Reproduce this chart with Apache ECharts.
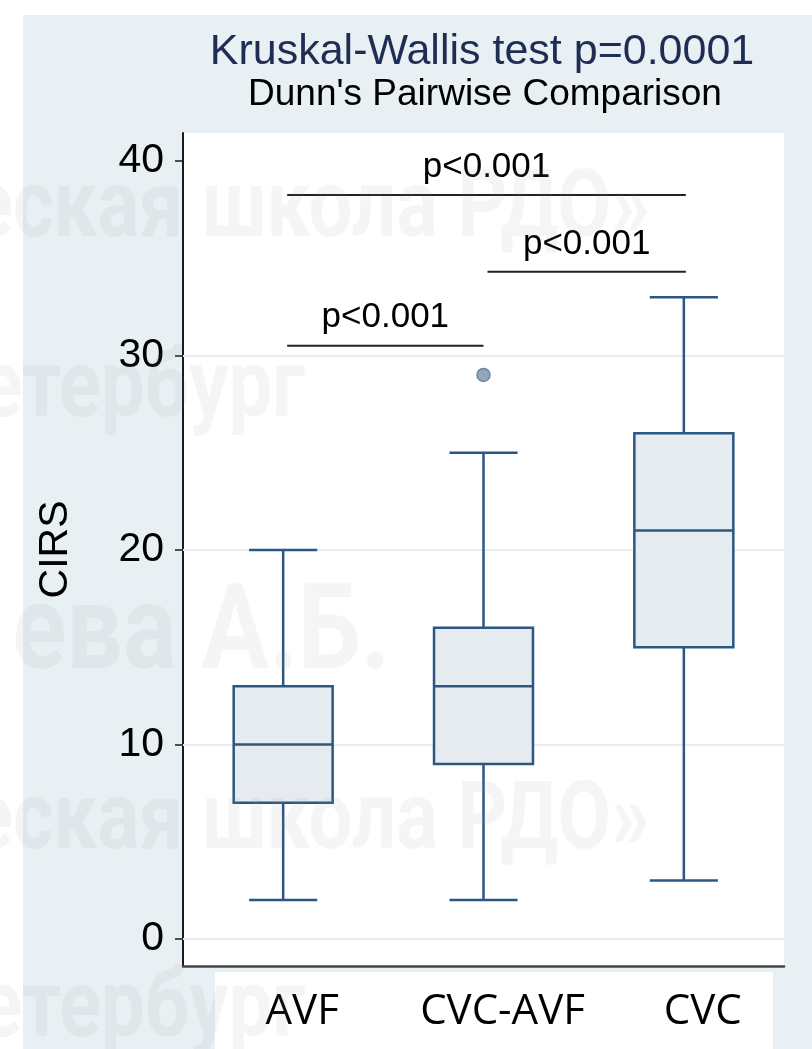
<!DOCTYPE html>
<html>
<head>
<meta charset="utf-8">
<script src="https://cdn.jsdelivr.net/npm/echarts@6/dist/echarts.min.js"></script>
<style>
html,body{margin:0;padding:0;background:#ffffff;}
#chart{width:812px;height:1049px;}
</style>
</head>
<body>
<div id="chart"></div>
<script>
// ---- data ----
var categories = ['AVF', 'CVC-AVF', 'CVC'];
var whiskerLow = [2, 2, 3];
var q1 = [7, 9, 15];
var medians = [10, 13, 21];
var q3 = [13, 16, 26];
var whiskerHigh = [20, 25, 33];
var outlierCategory = ['CVC-AVF'];
var outlierValue = [29];
var yTicks = [0, 10, 20, 30, 40];
var gridValues = [0, 10, 20, 30];
var bracketFrom = [0.02, 1.02, 0.02];
var bracketTo = [1.0, 2.01, 2.01];
var bracketLevel = [30.5, 34.3, 38.25];
var bracketText = ['p<0.001', 'p<0.001', 'p<0.001'];
var titleText = 'Kruskal-Wallis test p=0.0001';
var subtitleText = "Dunn's Pairwise Comparison";
var yName = 'CIRS';

var boxData = categories.map(function (c, i) {
  return [i, whiskerLow[i], q1[i], medians[i], q3[i], whiskerHigh[i]];
});
var outlierData = outlierCategory.map(function (c, i) { return [c, outlierValue[i]]; });
var bracketData = bracketFrom.map(function (f, i) { return [f, bracketTo[i], bracketLevel[i], bracketText[i]]; });

var BOX = '#2c5783';
var wmFill = 'rgba(140,140,140,0.09)';
var wmFont = 'bold 95px Roboto, "DejaVu Sans", sans-serif';

var chart = echarts.init(document.getElementById('chart'), null, {renderer: 'canvas'});
chart.setOption({
  animation: false,
  backgroundColor: '#ffffff',
  graphic: [
    {type: 'rect', z: -10, silent: true, shape: {x: 23, y: 15, width: 789, height: 1034}, style: {fill: '#e8f0f3'}},
    {type: 'rect', z: -9, silent: true, shape: {x: 215, y: 972, width: 558, height: 77}, style: {fill: '#ffffff'}},
    {type: 'text', z: 100, silent: true, x: 482, y: 52, style: {text: titleText, fill: '#1f2d55', font: '43px "Liberation Sans", Arial, sans-serif', align: 'center', verticalAlign: 'middle'}},
    {type: 'text', z: 100, silent: true, x: 485, y: 95, style: {text: subtitleText, fill: '#000000', font: '37px "Liberation Sans", Arial, sans-serif', align: 'center', verticalAlign: 'middle'}},
    {type: 'text', z: 200, silent: true, x: 650, y: 165, scaleX: 0.82, style: {text: 'еская школа РДО»', fill: wmFill, font: wmFont, align: 'right', verticalAlign: 'alphabetic'}},
    {type: 'text', z: 200, silent: true, x: 305, y: 345, scaleX: 0.82, style: {text: 'етербург', fill: wmFill, font: wmFont, align: 'right', verticalAlign: 'alphabetic'}},
    {type: 'text', z: 200, silent: true, x: 390, y: 579, scaleX: 0.85, style: {text: 'ева А.Б.', fill: wmFill, font: 'bold 118px Roboto, "DejaVu Sans", sans-serif', align: 'right', verticalAlign: 'alphabetic'}},
    {type: 'text', z: 200, silent: true, x: 650, y: 777, scaleX: 0.82, style: {text: 'еская школа РДО»', fill: wmFill, font: wmFont, align: 'right', verticalAlign: 'alphabetic'}},
    {type: 'text', z: 200, silent: true, x: 305, y: 965, scaleX: 0.82, style: {text: 'етербург', fill: wmFill, font: wmFont, align: 'right', verticalAlign: 'alphabetic'}}
  ],
  grid: {left: 183, right: 28, top: 133, bottom: 83, show: true, backgroundColor: '#ffffff', borderWidth: 0},
  xAxis: [
    {
      type: 'category', data: categories, boundaryGap: true,
      axisLine: {show: true, onZero: false, lineStyle: {color: '#444444', width: 2.5}},
      axisTick: {show: false},
      axisLabel: {interval: 0, hideOverlap: false, fontSize: 42, fontFamily: '"Open Sans", sans-serif', color: '#000000', margin: 25, lineHeight: 42, padding: [0, 0, 0, 38]},
      splitLine: {show: false}
    },
    {type: 'value', min: -0.5, max: 2.5, show: false}
  ],
  yAxis: {
    type: 'value', min: -1.39, max: 41.44,
    name: yName, nameLocation: 'middle', nameRotate: 90, nameGap: 107,
    nameTextStyle: {fontSize: 41, fontFamily: '"Liberation Sans", Arial, sans-serif', color: '#000000'},
    axisLine: {show: true, onZero: false, lineStyle: {color: '#1a1a1a', width: 2}},
    axisTick: {show: true, length: 8, customValues: yTicks, lineStyle: {color: '#1a1a1a', width: 1.5}},
    axisLabel: {customValues: yTicks, fontSize: 41, fontFamily: '"Liberation Sans", Arial, sans-serif', color: '#000000', margin: 19},
    splitLine: {show: false}
  },
  series: [
    {
      type: 'custom', name: 'box', z: 3, xAxisIndex: 0, yAxisIndex: 0,
      data: boxData,
      encode: {x: 0, y: [1, 2, 3, 4, 5]},
      renderItem: function (params, api) {
        var i = api.value(0);
        var band = api.size([1, 0])[0];
        var bw = band * 0.494, cw = band * 0.34;
        var pMin = api.coord([i, api.value(1)]);
        var pQ1 = api.coord([i, api.value(2)]);
        var pMed = api.coord([i, api.value(3)]);
        var pQ3 = api.coord([i, api.value(4)]);
        var pMax = api.coord([i, api.value(5)]);
        var cx = pMed[0];
        var ls = {stroke: BOX, lineWidth: 2.5};
        return {type: 'group', children: [
          {type: 'line', shape: {x1: cx, y1: pMax[1], x2: cx, y2: pQ3[1]}, style: ls},
          {type: 'line', shape: {x1: cx, y1: pQ1[1], x2: cx, y2: pMin[1]}, style: ls},
          {type: 'line', shape: {x1: cx - cw / 2, y1: pMax[1], x2: cx + cw / 2, y2: pMax[1]}, style: ls},
          {type: 'line', shape: {x1: cx - cw / 2, y1: pMin[1], x2: cx + cw / 2, y2: pMin[1]}, style: ls},
          {type: 'rect', shape: {x: cx - bw / 2, y: pQ3[1], width: bw, height: pQ1[1] - pQ3[1]}, style: {fill: '#e6ebf0', stroke: BOX, lineWidth: 2.5}},
          {type: 'line', shape: {x1: cx - bw / 2, y1: pMed[1], x2: cx + bw / 2, y2: pMed[1]}, style: ls}
        ]};
      }
    },
    {
      type: 'scatter', name: 'outlier', z: 4, xAxisIndex: 0, yAxisIndex: 0,
      data: outlierData, symbol: 'circle', symbolSize: 13,
      itemStyle: {color: '#91a5bb', borderColor: '#6e88a3', borderWidth: 1.5, opacity: 1},
      markLine: {
        silent: true, symbol: ['none', 'none'], z: 1, animation: false,
        label: {show: false},
        lineStyle: {color: '#e6eef2', width: 2, type: 'solid'},
        data: gridValues.map(function (v) { return {yAxis: v}; })
      }
    },
    {
      type: 'custom', name: 'brackets', z: 5, xAxisIndex: 1, yAxisIndex: 0,
      data: bracketData,
      encode: {x: [0, 1], y: 2},
      renderItem: function (params, api) {
        var a = api.coord([api.value(0), api.value(2)]);
        var b = api.coord([api.value(1), api.value(2)]);
        return {type: 'group', children: [
          {type: 'line', shape: {x1: a[0], y1: a[1], x2: b[0], y2: b[1]}, style: {stroke: '#222222', lineWidth: 2}},
          {type: 'text', x: (a[0] + b[0]) / 2, y: a[1] - 28, style: {text: bracketText[params.dataIndex], fill: '#000000', font: '35px "Liberation Sans", Arial, sans-serif', align: 'center', verticalAlign: 'middle'}}
        ]};
      }
    }
  ]
});
</script>
</body>
</html>
